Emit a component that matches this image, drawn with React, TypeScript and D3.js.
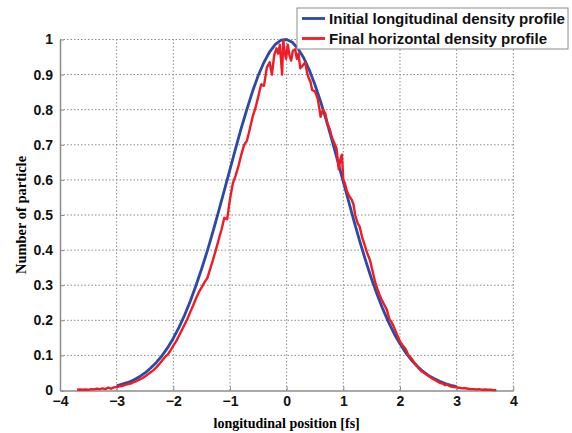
import React, { useEffect, useRef } from 'react'
import * as d3 from 'd3'

// initial (blue) profile
const blueX = [-3.0, -2.9, -2.8, -2.7, -2.6, -2.5, -2.4, -2.3, -2.2, -2.1, -2.0, -1.9, -1.8, -1.7, -1.6, -1.5, -1.4, -1.3, -1.2, -1.1, -1.0, -0.9, -0.8, -0.7, -0.6, -0.5, -0.4, -0.3, -0.2, -0.1, 0.0, 0.1, 0.2, 0.3, 0.4, 0.5, 0.6, 0.7, 0.8, 0.9, 1.0, 1.1, 1.2, 1.3, 1.4, 1.5, 1.6, 1.7, 1.8, 1.9, 2.0, 2.1, 2.2, 2.3, 2.4, 2.5, 2.6, 2.7, 2.8, 2.9, 3.0]
const blueY = [0.013, 0.018, 0.023, 0.030, 0.039, 0.050, 0.064, 0.080, 0.099, 0.122, 0.149, 0.180, 0.215, 0.255, 0.299, 0.347, 0.398, 0.453, 0.511, 0.570, 0.630, 0.690, 0.748, 0.802, 0.853, 0.898, 0.935, 0.965, 0.986, 0.998, 1.0, 0.992, 0.974, 0.948, 0.913, 0.871, 0.823, 0.770, 0.713, 0.654, 0.594, 0.535, 0.476, 0.420, 0.367, 0.317, 0.272, 0.231, 0.194, 0.161, 0.133, 0.108, 0.087, 0.070, 0.055, 0.043, 0.034, 0.026, 0.020, 0.015, 0.011]

// final (red) profile, noisy
const redX = [-3.7, -3.65, -3.6, -3.55, -3.5, -3.45, -3.4, -3.35, -3.3, -3.25, -3.2, -3.15, -3.1, -3.05, -3.0, -2.95, -2.9, -2.85, -2.8, -2.75, -2.7, -2.65, -2.6, -2.55, -2.5, -2.45, -2.4, -2.35, -2.3, -2.25, -2.2, -2.15, -2.1, -2.05, -2.0, -1.95, -1.9, -1.85, -1.8, -1.75, -1.7, -1.65, -1.6, -1.55, -1.5, -1.45, -1.4, -1.35, -1.3, -1.25, -1.2, -1.15, -1.1, -1.05, -1.0, -0.95, -0.9, -0.85, -0.8, -0.75, -0.7, -0.65, -0.6, -0.55, -0.5, -0.45, -0.4, -0.35, -0.3, -0.26, -0.22, -0.18, -0.15, -0.12, -0.08, -0.06, -0.03, -0.01, 0.02, 0.05, 0.08, 0.11, 0.15, 0.18, 0.21, 0.24, 0.28, 0.33, 0.36, 0.39, 0.42, 0.45, 0.5, 0.55, 0.6, 0.64, 0.68, 0.72, 0.76, 0.8, 0.84, 0.88, 0.92, 0.95, 0.975, 1.0, 1.03, 1.06, 1.1, 1.15, 1.18, 1.21, 1.25, 1.29, 1.33, 1.37, 1.42, 1.47, 1.51, 1.56, 1.6, 1.64, 1.68, 1.72, 1.77, 1.81, 1.85, 1.89, 1.95, 2.0, 2.05, 2.1, 2.15, 2.2, 2.25, 2.3, 2.33, 2.38, 2.43, 2.48, 2.52, 2.57, 2.62, 2.66, 2.7, 2.75, 2.8, 2.83, 2.86, 2.9, 2.95, 3.0, 3.05, 3.1, 3.15, 3.2, 3.25, 3.3, 3.35, 3.4, 3.45, 3.5, 3.55, 3.6, 3.65, 3.7]
const redY = [0.002, 0.003, 0.002, 0.003, 0.002, 0.004, 0.003, 0.005, 0.004, 0.006, 0.004, 0.008, 0.005, 0.009, 0.010, 0.012, 0.013, 0.016, 0.018, 0.020, 0.024, 0.027, 0.031, 0.035, 0.040, 0.046, 0.052, 0.058, 0.066, 0.075, 0.085, 0.095, 0.102, 0.114, 0.128, 0.140, 0.156, 0.172, 0.188, 0.204, 0.224, 0.242, 0.262, 0.280, 0.294, 0.308, 0.320, 0.346, 0.372, 0.400, 0.430, 0.458, 0.492, 0.488, 0.545, 0.590, 0.612, 0.640, 0.672, 0.700, 0.712, 0.745, 0.780, 0.805, 0.838, 0.872, 0.868, 0.920, 0.935, 0.900, 0.955, 0.975, 0.960, 0.985, 0.900, 0.998, 0.960, 0.945, 0.985, 0.955, 0.940, 0.968, 0.972, 0.945, 0.960, 0.918, 0.925, 0.935, 0.905, 0.890, 0.880, 0.856, 0.852, 0.830, 0.780, 0.800, 0.790, 0.760, 0.745, 0.720, 0.705, 0.690, 0.630, 0.660, 0.672, 0.600, 0.590, 0.570, 0.555, 0.543, 0.530, 0.500, 0.478, 0.466, 0.438, 0.418, 0.392, 0.372, 0.345, 0.310, 0.290, 0.272, 0.258, 0.245, 0.229, 0.205, 0.195, 0.182, 0.158, 0.140, 0.128, 0.118, 0.100, 0.092, 0.080, 0.070, 0.063, 0.055, 0.050, 0.044, 0.040, 0.034, 0.030, 0.026, 0.022, 0.020, 0.015, 0.018, 0.014, 0.011, 0.010, 0.009, 0.008, 0.006, 0.007, 0.005, 0.004, 0.004, 0.003, 0.004, 0.002, 0.003, 0.002, 0.002, 0.001, 0.001]

const xTicks = [-4, -3, -2, -1, 0, 1, 2, 3, 4]
const yTicks = [0, 0.1, 0.2, 0.3, 0.4, 0.5, 0.6, 0.7, 0.8, 0.9, 1]
const legendLabels = ['Initial longitudinal density profile', 'Final horizontal density profile']

export default function App() {
  const svgRef = useRef<SVGSVGElement>(null)

  useEffect(() => {
    const width = 572
    const height = 433
    const left = 60, right = 513.3, top = 39.5, bottom = 390.5

    const svg = d3.select(svgRef.current)
    svg.selectAll('*').remove()
    svg.attr('width', width).attr('height', height)

    const x = d3.scaleLinear().domain([-4, 4]).range([left, right])
    const y = d3.scaleLinear().domain([0, 1]).range([bottom, top])

    //grid
    const grid = svg.append('g')
      .attr('stroke', '#8a8a8a')
      .attr('stroke-width', 1)
      .attr('stroke-dasharray', '1.5,2')
    grid.selectAll('.vg')
      .data(xTicks.slice(1))
      .join('line')
      .attr('x1', d => x(d)).attr('x2', d => x(d))
      .attr('y1', bottom).attr('y2', top)
    grid.selectAll('.hg')
      .data(yTicks.slice(1))
      .join('line')
      .attr('x1', left).attr('x2', right)
      .attr('y1', d => y(d)).attr('y2', d => y(d))

    //axes (matlab style, inward ticks)
    const xAxis = d3.axisBottom(x).tickValues(xTicks).tickSizeInner(-4).tickSizeOuter(0).tickPadding(6).tickFormat(d3.format('d'))
    const yAxis = d3.axisLeft(y).tickValues(yTicks).tickSizeInner(-4).tickSizeOuter(0).tickPadding(7).tickFormat(d => d === 0 || d === 1 ? String(d) : d3.format('.1f')(d))

    const gx = svg.append('g').attr('transform', `translate(0,${bottom})`).call(xAxis)
    const gy = svg.append('g').attr('transform', `translate(${left},0)`).call(yAxis)
    ;[gx, gy].forEach(g => {
      g.select('.domain').attr('stroke', '#8c8c8c').attr('stroke-width', 1.5)
      g.selectAll('.tick line').attr('stroke', '#8c8c8c').attr('stroke-width', 1)
      g.selectAll('.tick text')
        .attr('fill', '#111')
        .style('font-family', 'Liberation Sans, Arial, sans-serif')
        .style('font-weight', 'bold')
        .style('font-size', '14px')
    })

    //lines
    const bluePts = blueX.map((d, i) => [x(d), y(blueY[i])] as [number, number])
    const redPts = redX.map((d, i) => [x(d), y(redY[i])] as [number, number])
    svg.append('path')
      .attr('d', d3.line()(bluePts))
      .attr('fill', 'none')
      .attr('stroke', '#2b4aa6')
      .attr('stroke-width', 2.8)
      .attr('stroke-linejoin', 'round')
    svg.append('path')
      .attr('d', d3.line()(redPts))
      .attr('fill', 'none')
      .attr('stroke', '#ee1c26')
      .attr('stroke-width', 2.4)
      .attr('stroke-linejoin', 'round')

    //axis titles
    svg.append('text')
      .attr('x', (left + right) / 2)
      .attr('y', 428)
      .attr('text-anchor', 'middle')
      .style('font-family', 'Liberation Serif, Times New Roman, serif')
      .style('font-weight', 'bold')
      .style('font-size', '14px')
      .text('longitudinal position [fs]')

    svg.append('text')
      .attr('transform', `translate(26,${(top + bottom) / 2}) rotate(-90)`)
      .attr('text-anchor', 'middle')
      .style('font-family', 'Liberation Serif, Times New Roman, serif')
      .style('font-weight', 'bold')
      .style('font-size', '14.5px')
      .text('Number of particle')

    //legend
    const lg = svg.append('g')
    lg.append('rect')
      .attr('x', 297).attr('y', 8)
      .attr('width', 271).attr('height', 41)
      .attr('fill', 'white')
      .attr('stroke', '#8c8c8c')
      .attr('stroke-width', 1)
    const colors = ['#2b4aa6', '#ee1c26']
    const lens = [236, 218]
    legendLabels.forEach((lab, i) => {
      const ly = 18.5 + i * 20
      lg.append('line')
        .attr('x1', 302).attr('x2', 325)
        .attr('y1', ly).attr('y2', ly)
        .attr('stroke', colors[i])
        .attr('stroke-width', 2.8)
      lg.append('text')
        .attr('x', 329).attr('y', ly + 5.5)
        .attr('textLength', lens[i])
        .attr('lengthAdjust', 'spacingAndGlyphs')
        .style('font-family', 'Liberation Sans, Arial, sans-serif')
        .style('font-weight', 'bold')
        .style('font-size', '15px')
        .attr('fill', '#111')
        .text(lab)
    })
  }, [])

  return (
    <svg ref={svgRef} style={{ position: 'absolute', left: 0, top: 0, background: 'white' }}></svg>
  )
}
